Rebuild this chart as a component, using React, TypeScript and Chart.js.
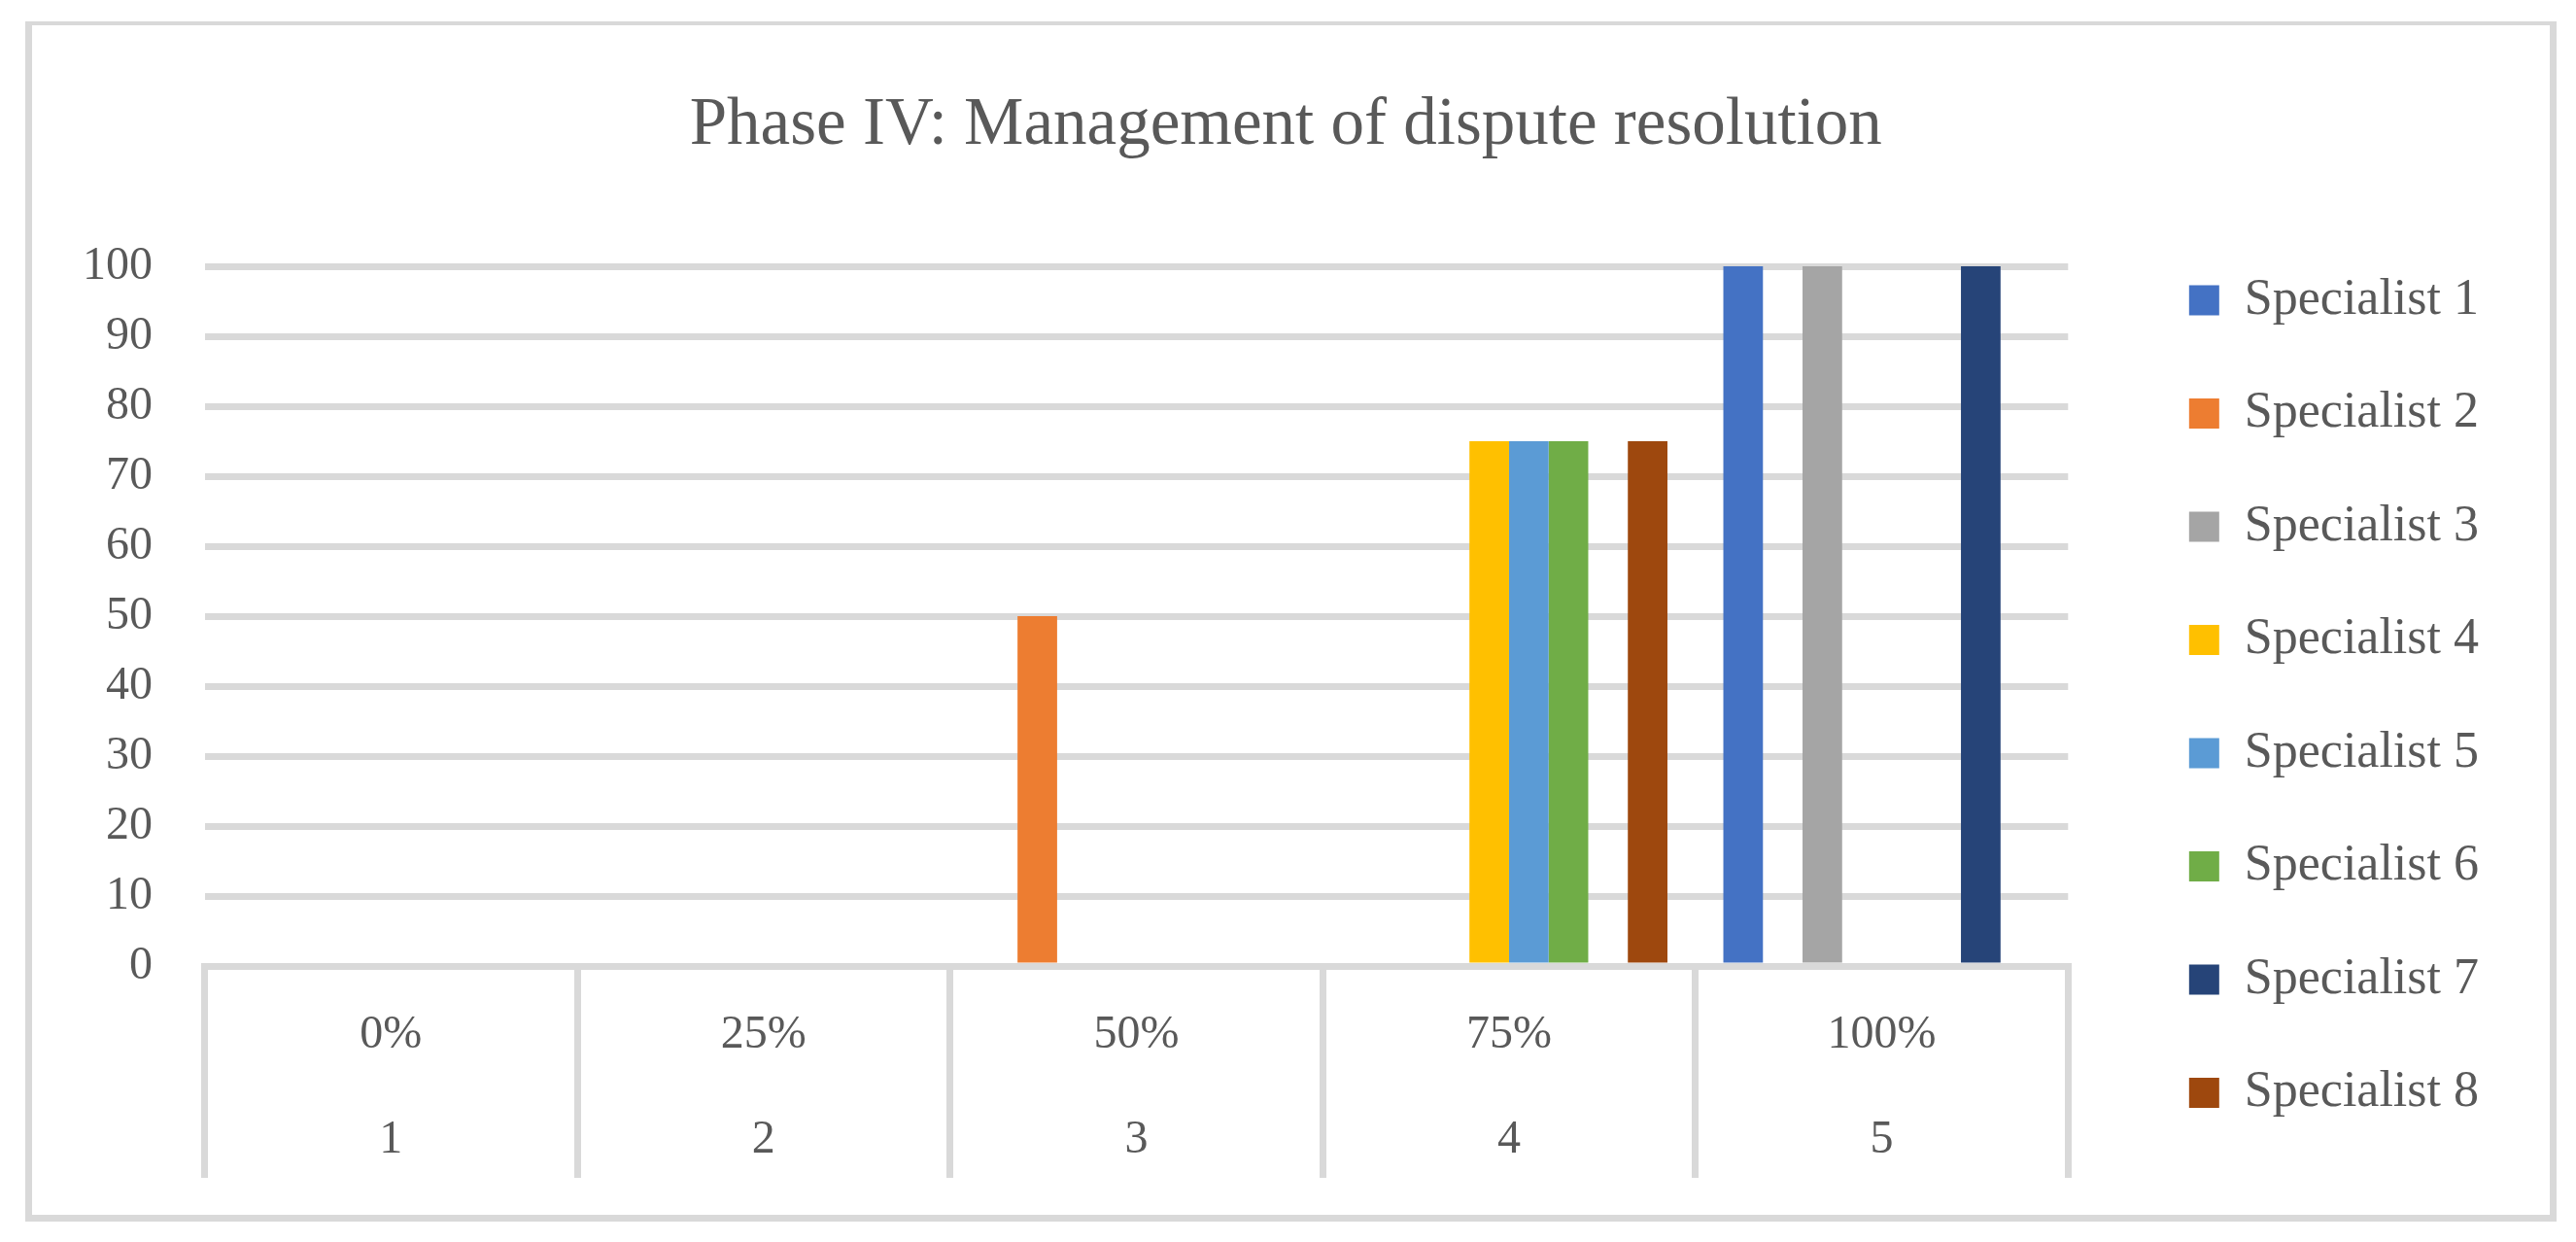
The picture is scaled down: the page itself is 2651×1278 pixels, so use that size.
import React, { useEffect, useRef } from "react";
import { Chart, registerables } from "chart.js";

Chart.register(...registerables);

const TITLE = "Phase IV: Management of dispute resolution";
const CATEGORIES = ["0%", "25%", "50%", "75%", "100%"];
const LEVELS = ["1", "2", "3", "4", "5"];
const SERIES_NAMES = [
  "Specialist 1",
  "Specialist 2",
  "Specialist 3",
  "Specialist 4",
  "Specialist 5",
  "Specialist 6",
  "Specialist 7",
  "Specialist 8",
];
const SPECIALIST_1 = [0, 0, 0, 0, 100];
const SPECIALIST_2 = [0, 0, 50, 0, 0];
const SPECIALIST_3 = [0, 0, 0, 0, 100];
const SPECIALIST_4 = [0, 0, 0, 75, 0];
const SPECIALIST_5 = [0, 0, 0, 75, 0];
const SPECIALIST_6 = [0, 0, 0, 75, 0];
const SPECIALIST_7 = [0, 0, 0, 0, 100];
const SPECIALIST_8 = [0, 0, 0, 75, 0];
const SERIES_VALUES = [
  SPECIALIST_1,
  SPECIALIST_2,
  SPECIALIST_3,
  SPECIALIST_4,
  SPECIALIST_5,
  SPECIALIST_6,
  SPECIALIST_7,
  SPECIALIST_8,
];
const COLORS = ["#4472C4", "#ED7D31", "#A5A5A5", "#FFC000", "#5B9BD5", "#70AD47", "#264478", "#9E480E"];
const Y_MIN = 0;
const Y_MAX = 100;
const Y_STEP = 10;

const FONT = "'Liberation Serif', 'Times New Roman', serif";
const TEXT = "#595959";
const GRID = "#d9d9d9";

export default function App() {
  const ref = useRef<HTMLCanvasElement | null>(null);

  useEffect(() => {
    document.body.style.margin = "0";
    const canvas = ref.current;
    if (!canvas) return;
    const chart = new Chart(canvas, {
      type: "bar",
      data: {
        labels: CATEGORIES.map((c, i) => [c, LEVELS[i]]),
        datasets: SERIES_NAMES.map((name, i) => ({
          label: name,
          data: SERIES_VALUES[i],
          backgroundColor: COLORS[i],
          borderWidth: 0,
          categoryPercentage: 0.85,
          barPercentage: 1.0,
        })),
      },
      options: {
        responsive: false,
        animation: false,
        devicePixelRatio: 1,
        events: [],
        layout: { padding: { left: 85.5, top: 20, right: 90, bottom: 51 } },
        plugins: {
          tooltip: { enabled: false },
          title: {
            display: true,
            text: TITLE,
            color: TEXT,
            font: { family: FONT, size: 69, weight: "normal", lineHeight: 1.2 },
            padding: { top: 68, bottom: 103.2 },
          },
          legend: {
            position: "right",
            align: "start",
            title: {
              display: true,
              text: "",
              padding: { top: 184, bottom: 0 },
              font: { family: FONT, size: 12, lineHeight: 1.2 },
            },
            labels: {
              boxWidth: 31,
              boxHeight: 31,
              padding: 64.5,
              color: TEXT,
              font: { family: FONT, size: 52 },
            },
          },
        },
        scales: {
          x: {
            type: "category",
            offset: true,
            grid: {
              display: true,
              offset: true,
              drawOnChartArea: false,
              drawTicks: true,
              tickLength: 218,
              color: GRID,
              lineWidth: 7,
            },
            border: { display: true, color: GRID, width: 7 },
            ticks: {
              color: TEXT,
              font: { family: FONT, size: 48, lineHeight: "108px" },
              padding: -201,
              maxRotation: 0,
              autoSkip: false,
            },
            afterFit: (scale: any) => {
              scale.height = 233;
            },
          },
          y: {
            min: Y_MIN,
            max: Y_MAX,
            grid: { color: GRID, lineWidth: 7, drawTicks: false },
            border: { display: false },
            ticks: {
              stepSize: Y_STEP,
              color: TEXT,
              font: { family: FONT, size: 48 },
              padding: 53.5,
            },
            afterFit: (scale: any) => {
              scale.width = 125;
            },
          },
          gap: {
            type: "linear",
            position: "right",
            display: true,
            grid: {
              display: true,
              drawOnChartArea: false,
              drawTicks: true,
              tickLength: 60,
              color: "rgba(0,0,0,0)",
            },
            border: { display: false },
            ticks: { display: false },
          },
        },
      },
    });
    return () => chart.destroy();
  }, []);

  return (
    <div style={{ position: "relative", width: 2651, height: 1278, background: "#ffffff", overflow: "hidden" }}>
      <div
        style={{
          position: "absolute",
          left: 26,
          top: 22,
          width: 2605,
          height: 1235,
          boxSizing: "border-box",
          borderStyle: "solid",
          borderColor: GRID,
          borderWidth: "4px 7px 7px 7px",
        }}
      />
      <canvas
        ref={ref}
        width={2651}
        height={1278}
        style={{ position: "absolute", left: 0, top: 0, width: 2651, height: 1278 }}
      />
    </div>
  );
}
